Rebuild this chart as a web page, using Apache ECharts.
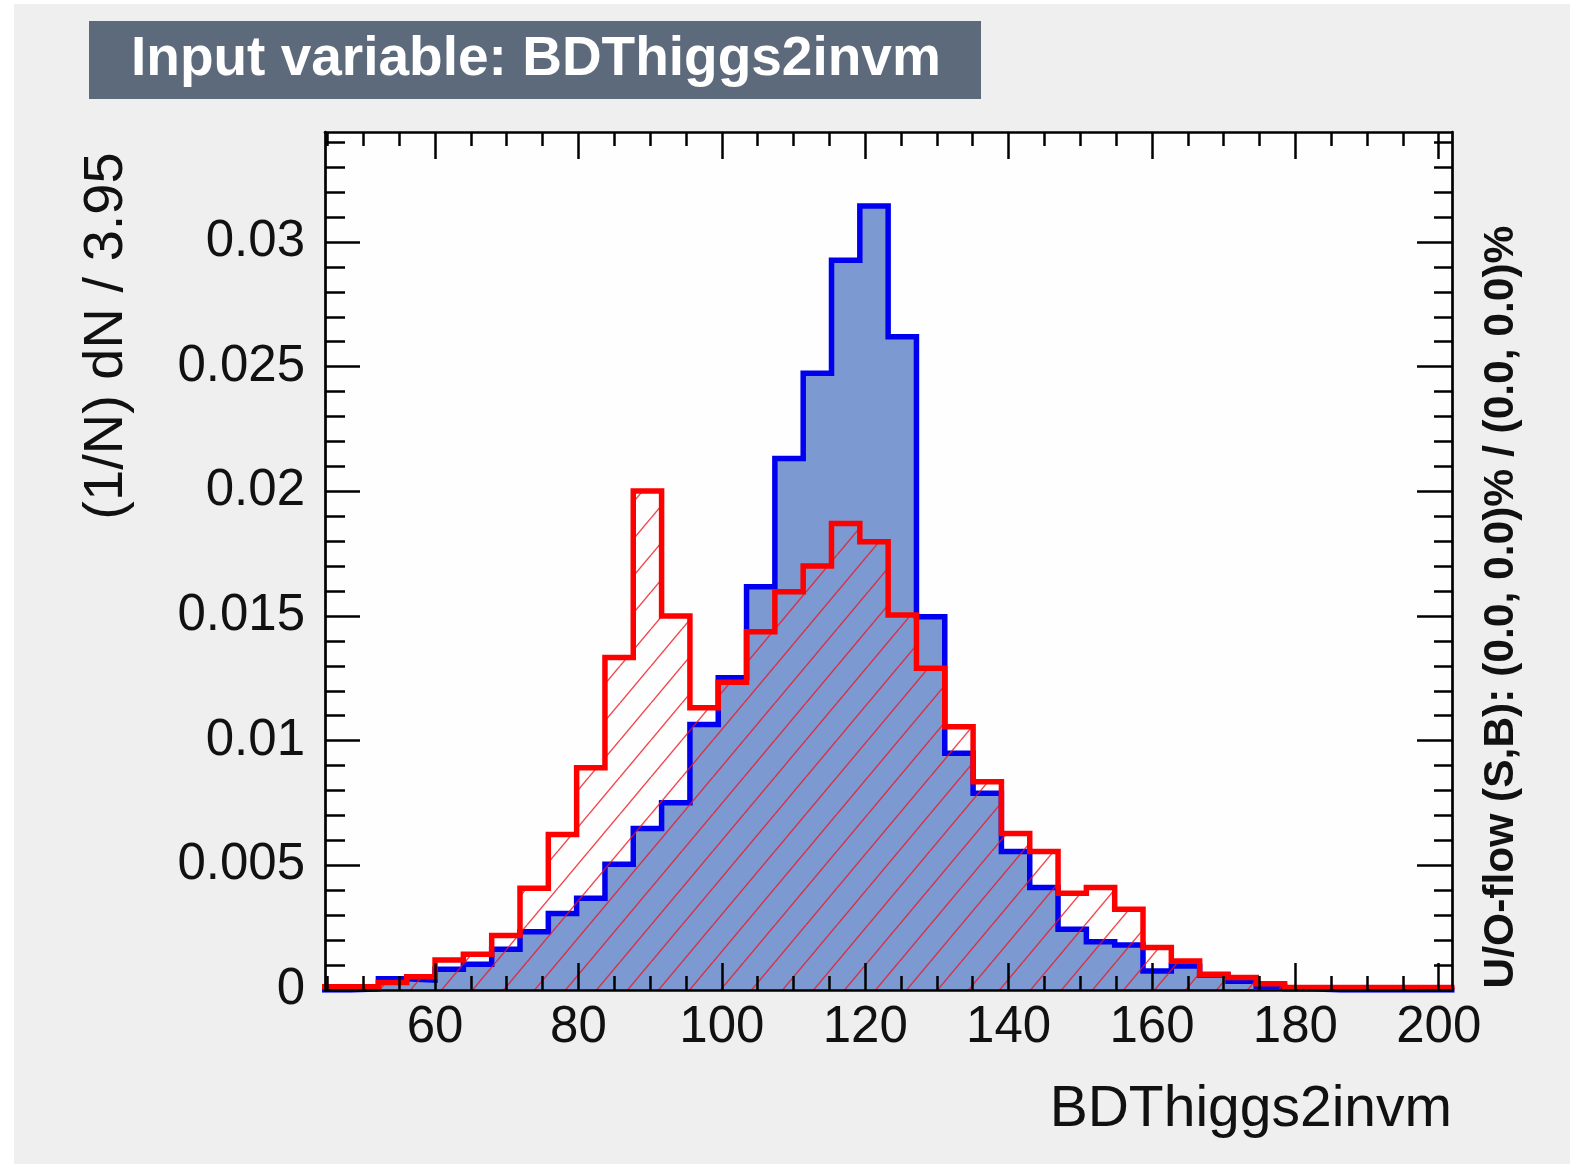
<!DOCTYPE html>
<html>
<head>
<meta charset="utf-8">
<title>Input variable: BDThiggs2invm</title>
<script src="https://cdn.jsdelivr.net/npm/echarts@6/dist/echarts.min.js"></script>
<style>
  html, body { margin: 0; padding: 0; background: #ffffff; }
  #panel { position: absolute; left: 14px; top: 4px; width: 1556px; height: 1160px; background: #efefef; }
  #chart { position: absolute; left: 0; top: 0; width: 1586px; height: 1164px; }
</style>
</head>
<body>
<div id="panel"></div>
<div id="chart"></div>
<script>
// histogram binning (40 bins)
var binStart = 44.2;
var binWidth = 3.95;

// visible frame range
var xMin = 44.65;
var xMax = 201.85;
var yMin = 0;
var yMax = 0.03441;

var xTicks = [60, 80, 100, 120, 140, 160, 180, 200];
var yTicks = [0, 0.005, 0.01, 0.015, 0.02, 0.025, 0.03];

// signal, normalised per bin
var signal = [
  0, 0.00005, 0.00045, 0.0004, 0.00083, 0.00103, 0.00163, 0.00234, 0.00307, 0.00368,
  0.00504, 0.00648, 0.00751, 0.01065, 0.01252, 0.01617, 0.02132, 0.02473, 0.02927, 0.03144,
  0.0262, 0.01497, 0.00949, 0.00789, 0.00555, 0.00411, 0.00244, 0.00194, 0.0018, 0.00076,
  0.00096, 0.0006, 0.00035, 0.00015, 0.00005, 0, 0, 0, 0, 0
];

// background, normalised per bin
var background = [
  0.00013, 0.00013, 0.0003, 0.00053, 0.0012, 0.00143, 0.00219, 0.00408, 0.00624, 0.00891,
  0.01333, 0.02001, 0.015, 0.01132, 0.01234, 0.01437, 0.01597, 0.017, 0.01871, 0.01798,
  0.01504, 0.0129, 0.01056, 0.00835, 0.00628, 0.00555, 0.00388, 0.00411, 0.00324, 0.0017,
  0.00116, 0.00063, 0.0005, 0.00025, 0.0001, 0.0001, 0.0001, 0.0001, 0.0001, 0.0001
];

/**
 * turn bin contents into points at the bin edges for a step line
 */
function stepData(values) {
  var pts = [];
  for (var k = 0; k < values.length; k++) {
    pts.push([binStart + k * binWidth, values[k]]);
  }
  pts.push([binStart + values.length * binWidth, values[values.length - 1]]);
  return pts;
}

// minor ticks: every 5 on x, every 0.001 on y
var xMinor = [];
for (var v = 45; v <= 200; v += 5) {
  if (v % 20 !== 0) xMinor.push(v);
}
var yMinor = [];
for (var i = 1; i <= 34; i++) {
  if (i % 5 !== 0) yMinor.push(i / 1000);
}

// red hatch like ROOT fill style
function hatchPattern() {
  var w = 31, h = 37;
  var c = document.createElement('canvas');
  c.width = w;
  c.height = h;
  var ctx = c.getContext('2d');
  ctx.strokeStyle = 'rgba(240,20,30,0.8)';
  ctx.lineWidth = 1.4;
  for (var j = -1; j <= 1; j++) {
    ctx.beginPath();
    ctx.moveTo(j * w, h);
    ctx.lineTo(j * w + w, 0);
    ctx.stroke();
  }
  return c;
}

var font = 'Liberation Sans';
var tickStyle = { color: '#000', width: 2.5 };
var frameStyle = { color: '#000', width: 2.7 };

// axes sit above the histograms, like ROOT redrawing the frame
function xAxisDef(position, len, values, labels) {
  return {
    type: 'value', position: position, min: xMin, max: xMax, z: 10,
    axisLine: { show: labels !== null, onZero: false, lineStyle: frameStyle },
    splitLine: { show: false },
    axisTick: { show: true, inside: true, length: len, customValues: values, lineStyle: tickStyle },
    axisLabel: labels ? {
      show: true, customValues: values, margin: 12,
      fontSize: 51, fontFamily: font, color: '#111'
    } : { show: false }
  };
}

function yAxisDef(position, len, values, labels) {
  return {
    type: 'value', position: position, min: yMin, max: yMax, z: 10,
    axisLine: { show: labels !== null, onZero: false, lineStyle: frameStyle },
    splitLine: { show: false },
    axisTick: { show: true, inside: true, length: len, customValues: values, lineStyle: tickStyle },
    axisLabel: labels ? {
      show: true, customValues: values, margin: 20,
      fontSize: 51, fontFamily: font, color: '#111'
    } : { show: false }
  };
}

var chart = echarts.init(document.getElementById('chart'), null, { renderer: 'canvas' });

var option = {
  animation: false,
  grid: {
    left: 325, top: 132, width: 1127, height: 858,
    show: true, backgroundColor: '#fefefe', borderWidth: 0
  },
  xAxis: [
    xAxisDef('bottom', 27, xTicks, true),
    xAxisDef('bottom', 14, xMinor, null),
    xAxisDef('top', 27, xTicks, false),
    xAxisDef('top', 14, xMinor, null)
  ],
  yAxis: [
    yAxisDef('left', 35, yTicks, true),
    yAxisDef('left', 20, yMinor, null),
    yAxisDef('right', 35, yTicks, false),
    yAxisDef('right', 18, yMinor, null)
  ],
  series: [
    {
      name: 'Signal', type: 'line', step: 'end', symbol: 'none',
      data: stepData(signal),
      lineStyle: { color: '#0000ee', width: 5.5, join: 'miter' },
      areaStyle: { color: '#7d99d1', opacity: 1 },
      z: 2
    },
    {
      name: 'Background', type: 'line', step: 'end', symbol: 'none',
      data: stepData(background),
      lineStyle: { color: '#ff0000', width: 5.5, join: 'miter' },
      areaStyle: { color: { image: hatchPattern(), repeat: 'repeat' }, opacity: 1 },
      z: 3
    }
  ],
  graphic: [
    // title box
    {
      type: 'rect', shape: { x: 89, y: 21, width: 892, height: 78 },
      style: { fill: '#5d6a7c' }
    },
    {
      type: 'text', x: 131, y: 60,
      style: {
        text: 'Input variable: BDThiggs2invm', fill: '#ffffff',
        font: 'bold 55px "Liberation Sans"', verticalAlign: 'middle'
      }
    },
    // axis titles
    {
      type: 'text', x: 1452, y: 1110,
      style: {
        text: 'BDThiggs2invm', fill: '#111',
        font: '57px "Liberation Sans"', align: 'right', verticalAlign: 'middle'
      }
    },
    {
      type: 'text', x: 107, y: 336, rotation: Math.PI / 2,
      style: {
        text: '(1/N) dN / 3.95', fill: '#111',
        font: '56px "Liberation Sans"', align: 'center', verticalAlign: 'middle'
      }
    },
    // under/overflow note
    {
      type: 'text', x: 1501, y: 607, rotation: Math.PI / 2,
      style: {
        text: 'U/O-flow (S,B): (0.0, 0.0)% / (0.0, 0.0)%', fill: '#111',
        font: 'bold 42.5px "Liberation Sans"', align: 'center', verticalAlign: 'middle'
      }
    }
  ]
};

chart.setOption(option);
</script>
</body>
</html>
